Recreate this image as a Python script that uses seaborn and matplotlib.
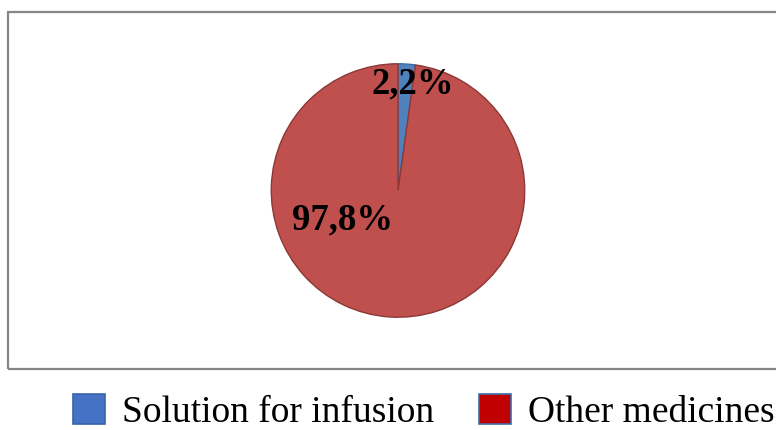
import matplotlib
matplotlib.use("Agg")
import matplotlib.pyplot as plt
from matplotlib.patches import Patch, Rectangle
import seaborn as sns

# data
categories = ["Solution for infusion", "Other medicines"]
shares = [2.2, 97.8]
labels = ["2,2%", "97,8%"]

pie_colors = ["#4F81BD", "#C0504D"]
edge_colors = ["#3C6AA2", "#8C3836"]
legend_colors = ["#4472C4", "#C00000"]
legend_edges = ["#3A64AA", "#3F6CA8"]

sns.set_theme(style="white")
plt.rcParams['font.family'] = ['Liberation Serif', 'DejaVu Serif']
plt.rcParams['text.color'] = 'black'

W, H = 776, 430
fig = plt.figure(figsize=(W / 100, H / 100), dpi=100)

# outer frame (right edge runs off the image)
fig.patches.append(Rectangle((8 / W, 1 - 369 / H), 800 / W, 357 / H,
                             transform=fig.transFigure, fill=False,
                             edgecolor="#868686", linewidth=1.6))

cx, cy, r = 398, 190.5, 128
ax = fig.add_axes([(cx - r) / W, 1 - (cy + r) / H, 2 * r / W, 2 * r / H])
wedges, _ = ax.pie(shares, colors=pie_colors, startangle=90, counterclock=False,
                   wedgeprops=dict(linewidth=1.0))
for w, ec in zip(wedges, edge_colors):
    w.set_edgecolor(ec)
ax.set_xlim(-1.01, 1.01)
ax.set_ylim(-1.01, 1.01)
ax.set_aspect("equal")
ax.axis("off")

label_pos = [(0.117, 0.84), (-0.435, -0.235)]
for (x, y), t in zip(label_pos, labels):
    ax.text(x, y, t, ha="center", va="center", fontsize=26.5, fontweight="bold", color="black")

handles = [Patch(facecolor=fc, edgecolor=ec, linewidth=1.2)
           for fc, ec in zip(legend_colors, legend_edges)]
fig.legend(handles, categories, loc="lower left", bbox_to_anchor=(73 / W, 0.0),
           ncol=2, frameon=False, fontsize=27, handlelength=0.85, handleheight=0.85,
           handletextpad=0.45, columnspacing=1.2, borderpad=0.0, borderaxespad=0.0,
           labelcolor="black")

fig.savefig("out.png", dpi=100)
